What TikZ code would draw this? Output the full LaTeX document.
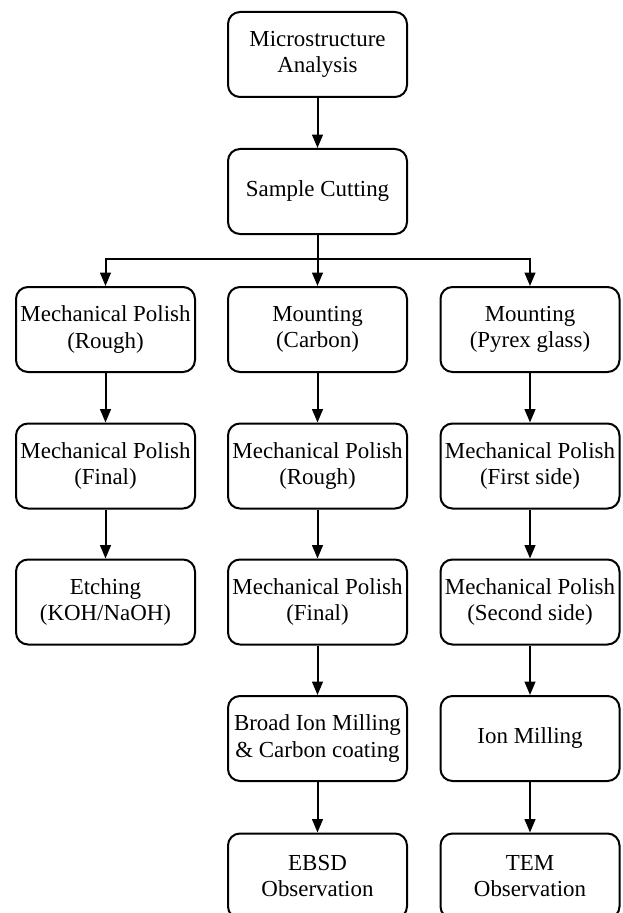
\documentclass[tikz,border=0pt]{standalone}
\usepackage{fontspec}
\setmainfont{Liberation Serif}
\usetikzlibrary{arrows.meta}
\begin{document}
\begin{tikzpicture}[x=0.75pt,y=-0.75pt,
  stepbox/.style={draw, line width=1.5pt, rounded corners=9pt, minimum width=134.25pt, minimum height=63.75pt, inner sep=0pt, align=center, font=\fontsize{17.2}{20}\selectfont},
  arr/.style={line width=1.5pt, -{Triangle[width=8pt,length=10pt]}},
  ln/.style={line width=1.5pt}]
\useasboundingbox (0,0) rectangle (623,913);
\node[stepbox] (a) at (317.5,54.5) {Microstructure\\Analysis};
\node[stepbox] (b) at (317.5,191.5) {Sample Cutting};
\node[stepbox] (l1) at (105.5,329.5) {Mechanical Polish\\(Rough)};
\node[stepbox] (l2) at (105.5,466) {Mechanical Polish\\(Final)};
\node[stepbox] (l3) at (105.5,602) {Etching\\(KOH/NaOH)};
\node[stepbox] (m1) at (317.5,329.5) {Mounting\\(Carbon)};
\node[stepbox] (m2) at (317.5,466) {Mechanical Polish\\(Rough)};
\node[stepbox] (m3) at (317.5,602) {Mechanical Polish\\(Final)};
\node[stepbox] (m4) at (317.5,738.5) {Broad Ion Milling\\\& Carbon coating};
\node[stepbox] (m5) at (317.5,876) {EBSD\\Observation};
\node[stepbox] (r1) at (530,329.5) {Mounting\\(Pyrex glass)};
\node[stepbox] (r2) at (530,466) {Mechanical Polish\\(First side)};
\node[stepbox] (r3) at (530,602) {Mechanical Polish\\(Second side)};
\node[stepbox] (r4) at (530,738.5) {Ion Milling};
\node[stepbox] (r5) at (530,876) {TEM\\Observation};
\coordinate (j) at (317.5,259);
\draw[arr] (a) -- (b);
\draw[ln] (b) -- (j);
\draw[arr] (j) -- (m1);
\draw[arr] (j) -| (l1.north);
\draw[arr] (j) -| (r1.north);
\draw[arr] (l1) -- (l2);
\draw[arr] (l2) -- (l3);
\draw[arr] (m1) -- (m2);
\draw[arr] (m2) -- (m3);
\draw[arr] (m3) -- (m4);
\draw[arr] (m4) -- (m5);
\draw[arr] (r1) -- (r2);
\draw[arr] (r2) -- (r3);
\draw[arr] (r3) -- (r4);
\draw[arr] (r4) -- (r5);
\end{tikzpicture}
\end{document}
